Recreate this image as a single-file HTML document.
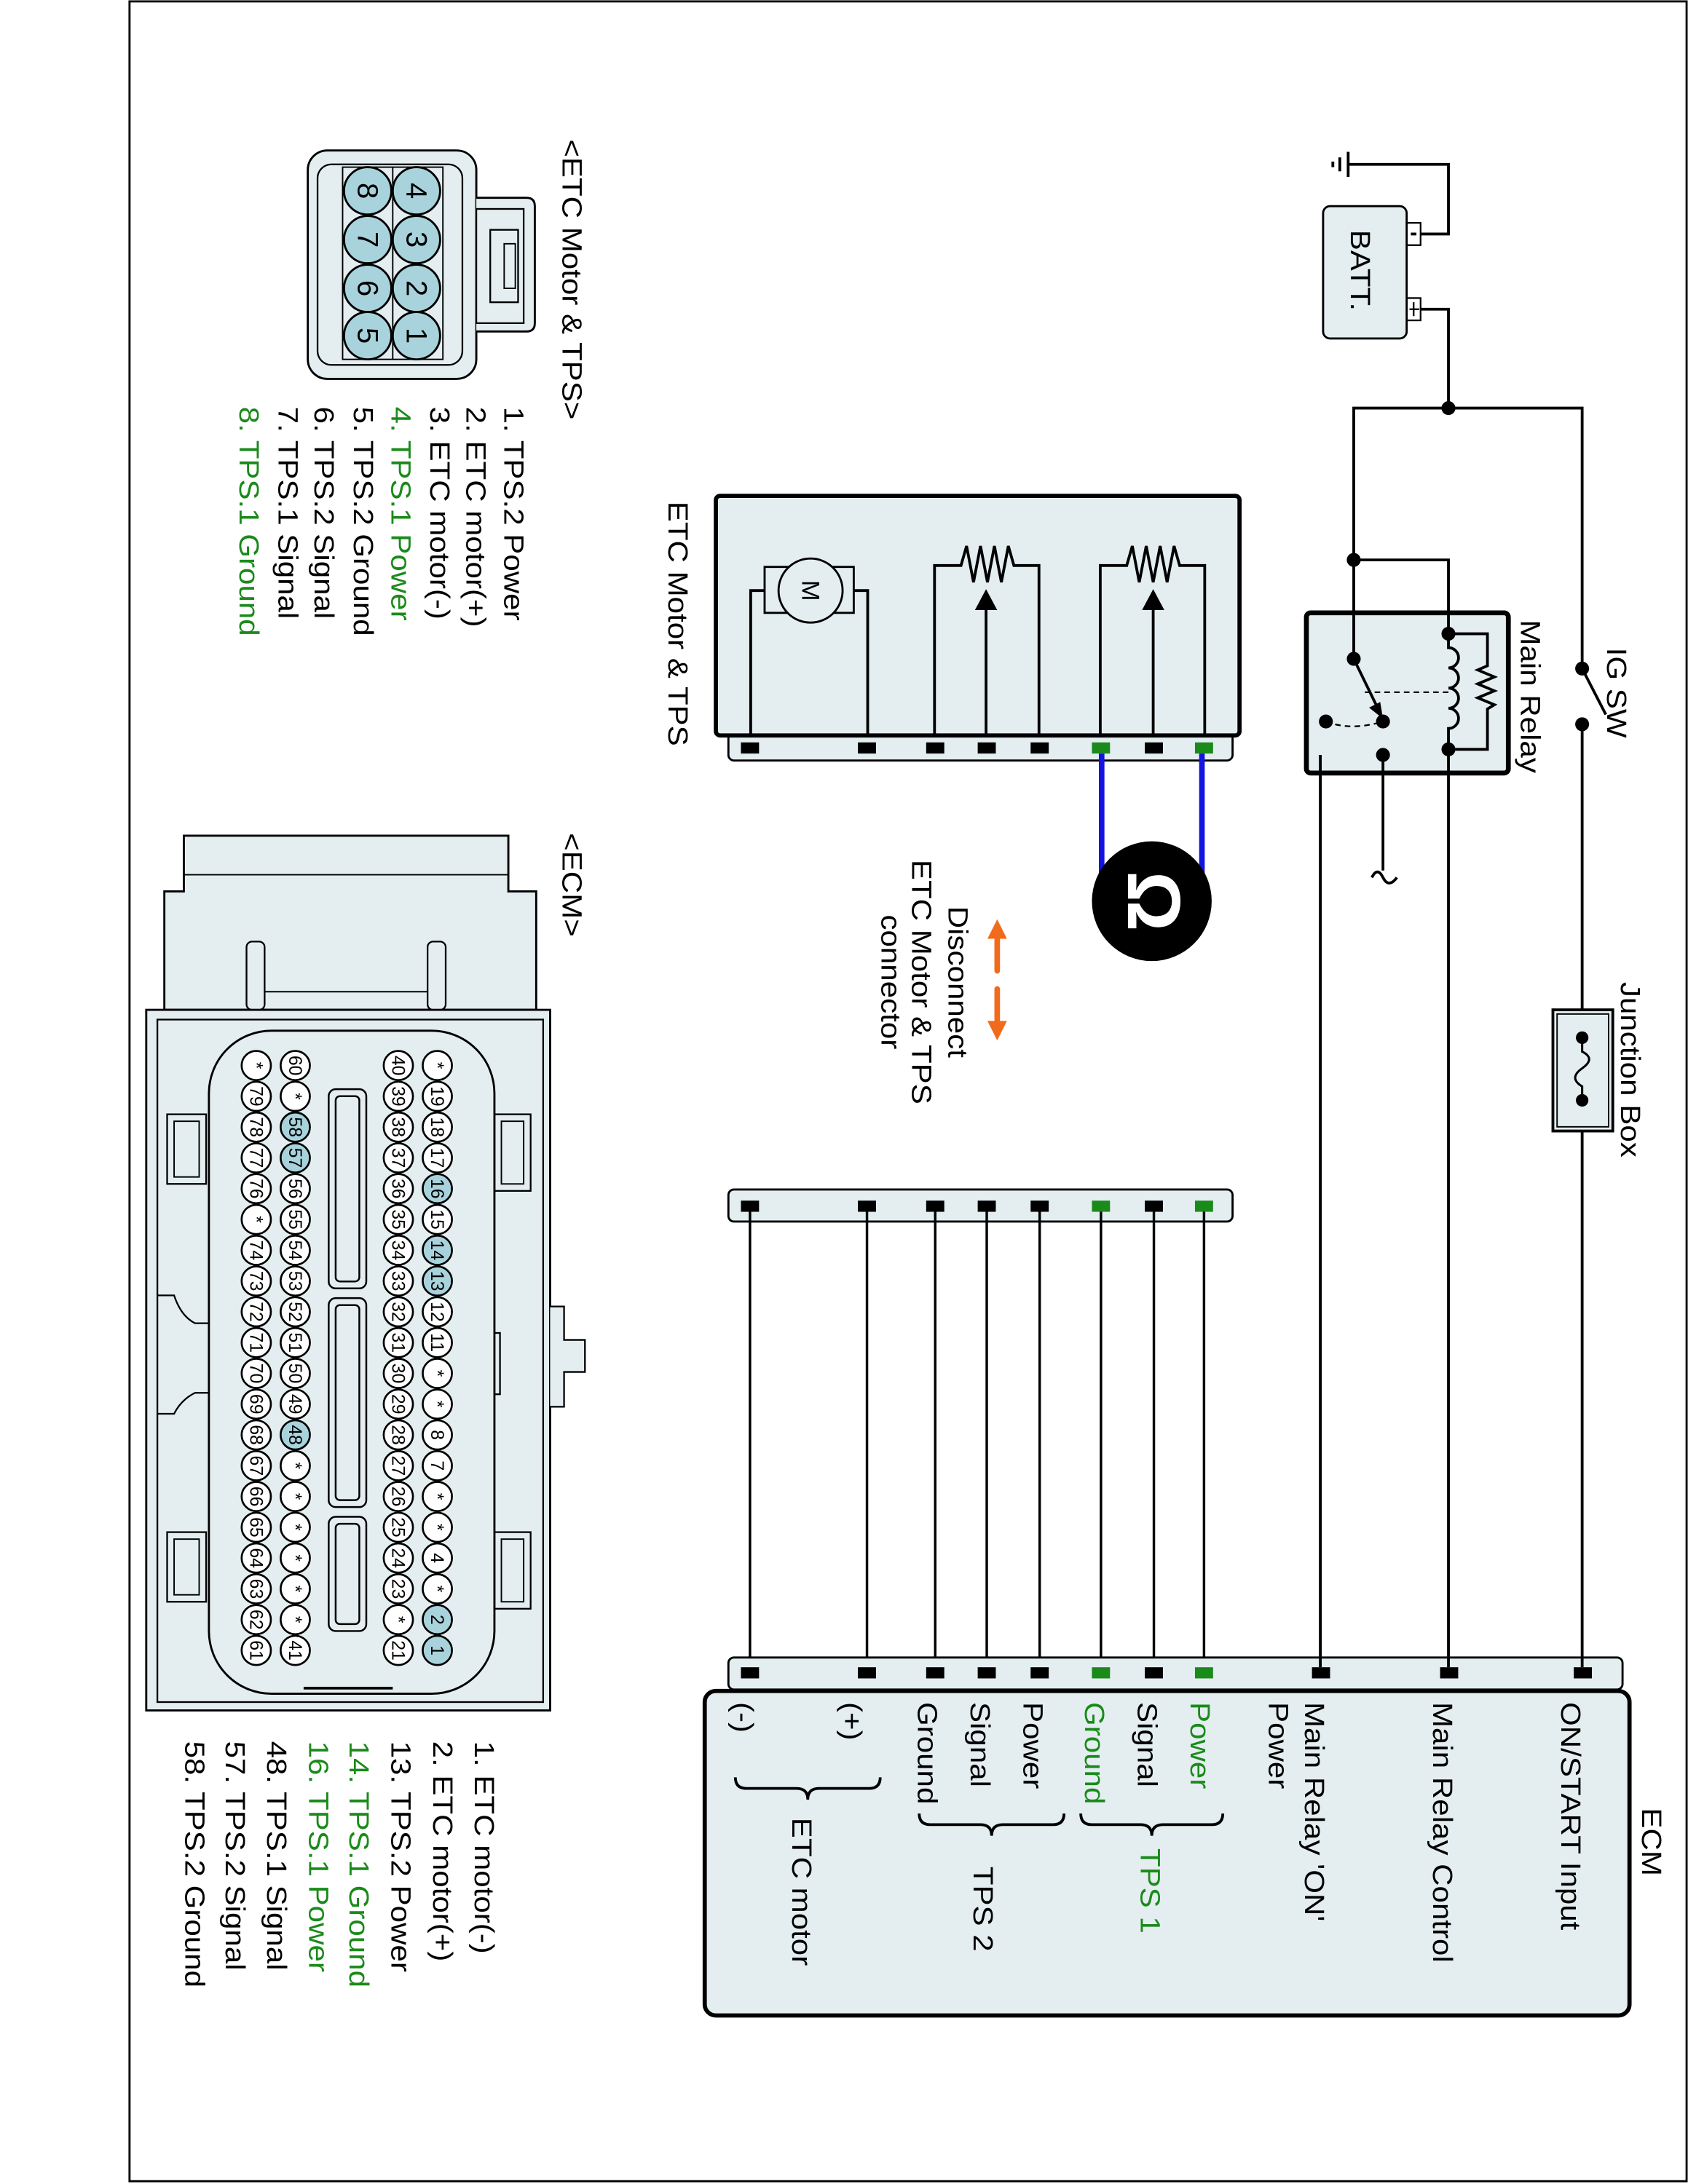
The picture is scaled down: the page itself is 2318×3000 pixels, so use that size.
<!DOCTYPE html>
<html><head><meta charset="utf-8"><style>html,body{margin:0;padding:0;background:#fff}svg{display:block}</style></head>
<body>
<svg xmlns="http://www.w3.org/2000/svg" width="2318" height="3000" viewBox="0 0 1212 1568" preserveAspectRatio="none" font-family="Liberation Sans, Arial, sans-serif">
<defs>
<style>
.w{fill:none;stroke:#000;stroke-width:2}
.t{font-size:20px;fill:#000}
.g{fill:#1a8a1a}
.pn{font-size:13px;fill:#000}
</style>
</defs>
<rect x="0" y="0" width="1212" height="1568" fill="#fff"/>
<rect x="93" y="1" width="1118" height="1565" fill="none" stroke="#000" stroke-width="1.5"/>

<!-- ETC connector face -->
<text class="t" transform="translate(404,100) rotate(90) scale(1.1,1)">&lt;ETC Motor &amp; TPS&gt;</text>
<rect x="221" y="108" width="121" height="164" rx="14" fill="#e4eef0" stroke="#000" stroke-width="1.5"/>
<rect x="228" y="118" width="104" height="144" rx="10" fill="none" stroke="#000" stroke-width="1.2"/>
<path d="M342,142 H378 Q384,142 384,148 V232 Q384,238 378,238 H342" fill="#e4eef0" stroke="#000" stroke-width="1.5"/>
<rect x="342" y="150" width="34" height="82" fill="none" stroke="#000" stroke-width="1.2"/>
<rect x="352" y="165" width="20" height="52" fill="none" stroke="#000" stroke-width="1.2"/>
<rect x="362" y="175" width="8" height="32" fill="none" stroke="#000" stroke-width="1"/>
<rect x="246" y="120" width="72" height="138" fill="none" stroke="#000" stroke-width="1"/>
<line x1="282" y1="120" x2="282" y2="258" stroke="#000" stroke-width="1"/>
<g stroke="#000" stroke-width="1.5" fill="#a9d3dc">
<ellipse cx="299" cy="137" rx="17" ry="17"/><ellipse cx="299" cy="172" rx="17" ry="17"/><ellipse cx="299" cy="207" rx="17" ry="17"/><ellipse cx="299" cy="241" rx="17" ry="17"/>
<ellipse cx="264" cy="137" rx="17" ry="17"/><ellipse cx="264" cy="172" rx="17" ry="17"/><ellipse cx="264" cy="207" rx="17" ry="17"/><ellipse cx="264" cy="241" rx="17" ry="17"/>
</g>
<g font-size="21" text-anchor="middle">
<text transform="translate(292,137) rotate(90)">4</text>
<text transform="translate(292,172) rotate(90)">3</text>
<text transform="translate(292,207) rotate(90)">2</text>
<text transform="translate(292,241) rotate(90)">1</text>
<text transform="translate(257,137) rotate(90)">8</text>
<text transform="translate(257,172) rotate(90)">7</text>
<text transform="translate(257,207) rotate(90)">6</text>
<text transform="translate(257,241) rotate(90)">5</text>
</g>
<g class="t">
<text transform="translate(362,292) rotate(90) scale(1.1,1)">1. TPS.2 Power</text>
<text transform="translate(335,292) rotate(90) scale(1.1,1)">2. ETC motor(+)</text>
<text transform="translate(309,292) rotate(90) scale(1.1,1)">3. ETC motor(-)</text>
<text class="g" transform="translate(281,292) rotate(90) scale(1.1,1)">4. TPS.1 Power</text>
<text transform="translate(254,292) rotate(90) scale(1.1,1)">5. TPS.2 Ground</text>
<text transform="translate(226,292) rotate(90) scale(1.1,1)">6. TPS.2 Signal</text>
<text transform="translate(200,292) rotate(90) scale(1.1,1)">7. TPS.1 Signal</text>
<text class="g" transform="translate(172,292) rotate(90) scale(1.1,1)">8. TPS.1 Ground</text>
</g>

<!-- ECM connector face -->
<text class="t" transform="translate(404,598) rotate(90) scale(1.1,1)">&lt;ECM&gt;</text>
<path d="M118,725 V640 H132 V600 H365 V640 H385 V725 Z" fill="#e4eef0" stroke="#000" stroke-width="1.5"/>
<line x1="132" y1="628" x2="365" y2="628" stroke="#000" stroke-width="1"/>
<rect x="177" y="676" width="13" height="49" rx="4" fill="#e4eef0" stroke="#000" stroke-width="1.2"/>
<rect x="307" y="676" width="13" height="49" rx="4" fill="#e4eef0" stroke="#000" stroke-width="1.2"/>
<line x1="190" y1="712" x2="307" y2="712" stroke="#000" stroke-width="1"/>
<rect x="105" y="725" width="290" height="503" fill="#e4eef0" stroke="#000" stroke-width="1.5"/>
<rect x="113" y="732" width="277" height="490" fill="none" stroke="#000" stroke-width="1.2"/>
<path d="M395,938 H405 V962 H420 V985 H405 V1010 H395" fill="#e4eef0" stroke="#000" stroke-width="1.2"/>
<path d="M113,930 H125 Q130,945 140,950 H150 V1000 H140 Q130,1005 125,1015 H113" fill="none" stroke="#000" stroke-width="1.2"/>
<rect x="120" y="800" width="28" height="50" fill="none" stroke="#000" stroke-width="1.2"/>
<rect x="125" y="805" width="18" height="40" fill="none" stroke="#000" stroke-width="1"/>
<rect x="120" y="1100" width="28" height="50" fill="none" stroke="#000" stroke-width="1.2"/>
<rect x="125" y="1105" width="18" height="40" fill="none" stroke="#000" stroke-width="1"/>
<rect x="355" y="800" width="26" height="55" fill="none" stroke="#000" stroke-width="1.2"/>
<rect x="360" y="805" width="16" height="45" fill="none" stroke="#000" stroke-width="1"/>
<rect x="355" y="1100" width="26" height="55" fill="none" stroke="#000" stroke-width="1.2"/>
<rect x="360" y="1105" width="16" height="45" fill="none" stroke="#000" stroke-width="1"/>
<rect x="345" y="957" width="14" height="44" fill="none" stroke="#000" stroke-width="1.2"/>
<rect x="150" y="740" width="205" height="476" rx="45" fill="#e4eef0" stroke="#000" stroke-width="1.5"/>
<line x1="218" y1="1212" x2="282" y2="1212" stroke="#000" stroke-width="2"/>
<g fill="#e4eef0" stroke="#000" stroke-width="1.3">
<rect x="236" y="782" width="27" height="143" rx="5"/>
<rect x="236" y="932" width="27" height="150" rx="5"/>
<rect x="236" y="1089" width="27" height="82" rx="5"/>
<rect x="241" y="787" width="17" height="133" rx="3"/>
<rect x="241" y="937" width="17" height="140" rx="3"/>
<rect x="241" y="1094" width="17" height="72" rx="3"/>
</g>
<g stroke="#000" stroke-width="1.4" fill="#fff">
<circle cx="314" cy="765" r="10.5"/><circle cx="314" cy="787.1" r="10.5"/><circle cx="314" cy="809.2" r="10.5"/><circle cx="314" cy="831.3" r="10.5"/><circle cx="314" cy="853.4" r="10.5" fill="#a9d3dc"/><circle cx="314" cy="875.5" r="10.5"/><circle cx="314" cy="897.6" r="10.5" fill="#a9d3dc"/><circle cx="314" cy="919.7" r="10.5" fill="#a9d3dc"/><circle cx="314" cy="941.8" r="10.5"/><circle cx="314" cy="963.9" r="10.5"/><circle cx="314" cy="986" r="10.5"/><circle cx="314" cy="1008.1" r="10.5"/><circle cx="314" cy="1030.2" r="10.5"/><circle cx="314" cy="1052.3" r="10.5"/><circle cx="314" cy="1074.4" r="10.5"/><circle cx="314" cy="1096.5" r="10.5"/><circle cx="314" cy="1118.6" r="10.5"/><circle cx="314" cy="1140.7" r="10.5"/><circle cx="314" cy="1162.8" r="10.5" fill="#a9d3dc"/><circle cx="314" cy="1184.9" r="10.5" fill="#a9d3dc"/>
<circle cx="286" cy="765" r="10.5"/><circle cx="286" cy="787.1" r="10.5"/><circle cx="286" cy="809.2" r="10.5"/><circle cx="286" cy="831.3" r="10.5"/><circle cx="286" cy="853.4" r="10.5"/><circle cx="286" cy="875.5" r="10.5"/><circle cx="286" cy="897.6" r="10.5"/><circle cx="286" cy="919.7" r="10.5"/><circle cx="286" cy="941.8" r="10.5"/><circle cx="286" cy="963.9" r="10.5"/><circle cx="286" cy="986" r="10.5"/><circle cx="286" cy="1008.1" r="10.5"/><circle cx="286" cy="1030.2" r="10.5"/><circle cx="286" cy="1052.3" r="10.5"/><circle cx="286" cy="1074.4" r="10.5"/><circle cx="286" cy="1096.5" r="10.5"/><circle cx="286" cy="1118.6" r="10.5"/><circle cx="286" cy="1140.7" r="10.5"/><circle cx="286" cy="1162.8" r="10.5"/><circle cx="286" cy="1184.9" r="10.5"/>
<circle cx="212" cy="765" r="10.5"/><circle cx="212" cy="787.1" r="10.5"/><circle cx="212" cy="809.2" r="10.5" fill="#a9d3dc"/><circle cx="212" cy="831.3" r="10.5" fill="#a9d3dc"/><circle cx="212" cy="853.4" r="10.5"/><circle cx="212" cy="875.5" r="10.5"/><circle cx="212" cy="897.6" r="10.5"/><circle cx="212" cy="919.7" r="10.5"/><circle cx="212" cy="941.8" r="10.5"/><circle cx="212" cy="963.9" r="10.5"/><circle cx="212" cy="986" r="10.5"/><circle cx="212" cy="1008.1" r="10.5"/><circle cx="212" cy="1030.2" r="10.5" fill="#a9d3dc"/><circle cx="212" cy="1052.3" r="10.5"/><circle cx="212" cy="1074.4" r="10.5"/><circle cx="212" cy="1096.5" r="10.5"/><circle cx="212" cy="1118.6" r="10.5"/><circle cx="212" cy="1140.7" r="10.5"/><circle cx="212" cy="1162.8" r="10.5"/><circle cx="212" cy="1184.9" r="10.5"/>
<circle cx="184" cy="765" r="10.5"/><circle cx="184" cy="787.1" r="10.5"/><circle cx="184" cy="809.2" r="10.5"/><circle cx="184" cy="831.3" r="10.5"/><circle cx="184" cy="853.4" r="10.5"/><circle cx="184" cy="875.5" r="10.5"/><circle cx="184" cy="897.6" r="10.5"/><circle cx="184" cy="919.7" r="10.5"/><circle cx="184" cy="941.8" r="10.5"/><circle cx="184" cy="963.9" r="10.5"/><circle cx="184" cy="986" r="10.5"/><circle cx="184" cy="1008.1" r="10.5"/><circle cx="184" cy="1030.2" r="10.5"/><circle cx="184" cy="1052.3" r="10.5"/><circle cx="184" cy="1074.4" r="10.5"/><circle cx="184" cy="1096.5" r="10.5"/><circle cx="184" cy="1118.6" r="10.5"/><circle cx="184" cy="1140.7" r="10.5"/><circle cx="184" cy="1162.8" r="10.5"/><circle cx="184" cy="1184.9" r="10.5"/>
</g>
<g class="pn" text-anchor="middle">
<text transform="translate(309.5,765) rotate(90)">*</text><text transform="translate(309.5,787.1) rotate(90)">19</text><text transform="translate(309.5,809.2) rotate(90)">18</text><text transform="translate(309.5,831.3) rotate(90)">17</text><text transform="translate(309.5,853.4) rotate(90)">16</text><text transform="translate(309.5,875.5) rotate(90)">15</text><text transform="translate(309.5,897.6) rotate(90)">14</text><text transform="translate(309.5,919.7) rotate(90)">13</text><text transform="translate(309.5,941.8) rotate(90)">12</text><text transform="translate(309.5,963.9) rotate(90)">11</text><text transform="translate(309.5,986) rotate(90)">*</text><text transform="translate(309.5,1008.1) rotate(90)">*</text><text transform="translate(309.5,1030.2) rotate(90)">8</text><text transform="translate(309.5,1052.3) rotate(90)">7</text><text transform="translate(309.5,1074.4) rotate(90)">*</text><text transform="translate(309.5,1096.5) rotate(90)">*</text><text transform="translate(309.5,1118.6) rotate(90)">4</text><text transform="translate(309.5,1140.7) rotate(90)">*</text><text transform="translate(309.5,1162.8) rotate(90)">2</text><text transform="translate(309.5,1184.9) rotate(90)">1</text>
<text transform="translate(281.5,765) rotate(90)">40</text><text transform="translate(281.5,787.1) rotate(90)">39</text><text transform="translate(281.5,809.2) rotate(90)">38</text><text transform="translate(281.5,831.3) rotate(90)">37</text><text transform="translate(281.5,853.4) rotate(90)">36</text><text transform="translate(281.5,875.5) rotate(90)">35</text><text transform="translate(281.5,897.6) rotate(90)">34</text><text transform="translate(281.5,919.7) rotate(90)">33</text><text transform="translate(281.5,941.8) rotate(90)">32</text><text transform="translate(281.5,963.9) rotate(90)">31</text><text transform="translate(281.5,986) rotate(90)">30</text><text transform="translate(281.5,1008.1) rotate(90)">29</text><text transform="translate(281.5,1030.2) rotate(90)">28</text><text transform="translate(281.5,1052.3) rotate(90)">27</text><text transform="translate(281.5,1074.4) rotate(90)">26</text><text transform="translate(281.5,1096.5) rotate(90)">25</text><text transform="translate(281.5,1118.6) rotate(90)">24</text><text transform="translate(281.5,1140.7) rotate(90)">23</text><text transform="translate(281.5,1162.8) rotate(90)">*</text><text transform="translate(281.5,1184.9) rotate(90)">21</text>
<text transform="translate(207.5,765) rotate(90)">60</text><text transform="translate(207.5,787.1) rotate(90)">*</text><text transform="translate(207.5,809.2) rotate(90)">58</text><text transform="translate(207.5,831.3) rotate(90)">57</text><text transform="translate(207.5,853.4) rotate(90)">56</text><text transform="translate(207.5,875.5) rotate(90)">55</text><text transform="translate(207.5,897.6) rotate(90)">54</text><text transform="translate(207.5,919.7) rotate(90)">53</text><text transform="translate(207.5,941.8) rotate(90)">52</text><text transform="translate(207.5,963.9) rotate(90)">51</text><text transform="translate(207.5,986) rotate(90)">50</text><text transform="translate(207.5,1008.1) rotate(90)">49</text><text transform="translate(207.5,1030.2) rotate(90)">48</text><text transform="translate(207.5,1052.3) rotate(90)">*</text><text transform="translate(207.5,1074.4) rotate(90)">*</text><text transform="translate(207.5,1096.5) rotate(90)">*</text><text transform="translate(207.5,1118.6) rotate(90)">*</text><text transform="translate(207.5,1140.7) rotate(90)">*</text><text transform="translate(207.5,1162.8) rotate(90)">*</text><text transform="translate(207.5,1184.9) rotate(90)">41</text>
<text transform="translate(179.5,765) rotate(90)">*</text><text transform="translate(179.5,787.1) rotate(90)">79</text><text transform="translate(179.5,809.2) rotate(90)">78</text><text transform="translate(179.5,831.3) rotate(90)">77</text><text transform="translate(179.5,853.4) rotate(90)">76</text><text transform="translate(179.5,875.5) rotate(90)">*</text><text transform="translate(179.5,897.6) rotate(90)">74</text><text transform="translate(179.5,919.7) rotate(90)">73</text><text transform="translate(179.5,941.8) rotate(90)">72</text><text transform="translate(179.5,963.9) rotate(90)">71</text><text transform="translate(179.5,986) rotate(90)">70</text><text transform="translate(179.5,1008.1) rotate(90)">69</text><text transform="translate(179.5,1030.2) rotate(90)">68</text><text transform="translate(179.5,1052.3) rotate(90)">67</text><text transform="translate(179.5,1074.4) rotate(90)">66</text><text transform="translate(179.5,1096.5) rotate(90)">65</text><text transform="translate(179.5,1118.6) rotate(90)">64</text><text transform="translate(179.5,1140.7) rotate(90)">63</text><text transform="translate(179.5,1162.8) rotate(90)">62</text><text transform="translate(179.5,1184.9) rotate(90)">61</text>
</g>
<g class="t">
<text transform="translate(341,1250) rotate(90) scale(1.1,1)">1. ETC motor(-)</text>
<text transform="translate(311,1250) rotate(90) scale(1.1,1)">2. ETC motor(+)</text>
<text transform="translate(281,1250) rotate(90) scale(1.1,1)">13. TPS.2 Power</text>
<text class="g" transform="translate(251,1250) rotate(90) scale(1.1,1)">14. TPS.1 Ground</text>
<text class="g" transform="translate(222,1250) rotate(90) scale(1.1,1)">16. TPS.1 Power</text>
<text transform="translate(192,1250) rotate(90) scale(1.1,1)">48. TPS.1 Signal</text>
<text transform="translate(162,1250) rotate(90) scale(1.1,1)">57. TPS.2 Signal</text>
<text transform="translate(133,1250) rotate(90) scale(1.1,1)">58. TPS.2 Ground</text>
</g>

<!-- ETC Motor & TPS box -->
<text class="t" transform="translate(480,360) rotate(90) scale(1.1,1)">ETC Motor &amp; TPS</text>
<rect x="523" y="520" width="362" height="26" rx="4" fill="#e4eef0" stroke="#000" stroke-width="1.5"/>
<rect x="514" y="356" width="376" height="172" rx="3" fill="#e4eef0" stroke="#000" stroke-width="3"/>
<path class="w" d="M539,528 V424 H549 M623,528 V424 H613"/>
<rect x="549" y="407" width="64" height="33" fill="#e4eef0" stroke="#000" stroke-width="1.5"/>
<circle cx="582" cy="424" r="23" fill="#e4eef0" stroke="#000" stroke-width="1.5"/>
<text transform="translate(576,424) rotate(90)" text-anchor="middle" font-size="18">M</text>
<path class="w" d="M671,528 V406 H690 L694,392 L699,418 L704,392 L709,418 L714,392 L719,418 L724,392 L728,406 H746 V528"/>
<line x1="708" y1="528" x2="708" y2="436" stroke="#000" stroke-width="2"/>
<path d="M708,423 L700,438 H716 Z"/>
<path class="w" d="M790,528 V406 H809 L813,392 L818,418 L823,392 L828,418 L833,392 L838,418 L843,392 L847,406 H865 V528"/>
<line x1="828" y1="528" x2="828" y2="436" stroke="#000" stroke-width="2"/>
<path d="M828,423 L820,438 H836 Z"/>
<g>
<rect x="532" y="533" width="13" height="8"/><rect x="616" y="533" width="13" height="8"/><rect x="665" y="533" width="13" height="8"/><rect x="702" y="533" width="13" height="8"/><rect x="740" y="533" width="13" height="8"/><rect x="784" y="533" width="13" height="8" fill="#1a8a1a"/><rect x="822" y="533" width="13" height="8"/><rect x="858" y="533" width="13" height="8" fill="#1a8a1a"/>
</g>
<line x1="791" y1="541" x2="791" y2="630" stroke="#1414e0" stroke-width="4"/>
<line x1="863" y1="541" x2="863" y2="630" stroke="#1414e0" stroke-width="4"/>
<circle cx="827" cy="647" r="43" fill="#000"/>
<text transform="translate(810,647) rotate(90)" text-anchor="middle" font-size="54" font-weight="bold" fill="#fff">Ω</text>

<g fill="#f26a1b" stroke="#f26a1b">
<line x1="716" y1="672" x2="716" y2="697" stroke-width="4" stroke-linecap="round"/>
<path d="M716,660 L709,674 H723 Z" stroke="none"/>
<line x1="716" y1="710" x2="716" y2="735" stroke-width="4" stroke-linecap="round"/>
<path d="M716,747 L709,733 H723 Z" stroke="none"/>
</g>
<g class="t" text-anchor="middle">
<text transform="translate(681,705) rotate(90) scale(1.1,1)">Disconnect</text>
<text transform="translate(655,705) rotate(90) scale(1.1,1)">ETC Motor &amp; TPS</text>
<text transform="translate(633,705) rotate(90) scale(1.1,1)">connector</text>
</g>

<rect x="523" y="854" width="362" height="23" rx="4" fill="#e4eef0" stroke="#000" stroke-width="1.5"/>
<g>
<rect x="532" y="862" width="13" height="8"/><rect x="616" y="862" width="13" height="8"/><rect x="665" y="862" width="13" height="8"/><rect x="702" y="862" width="13" height="8"/><rect x="740" y="862" width="13" height="8"/><rect x="784" y="862" width="13" height="8" fill="#1a8a1a"/><rect x="822" y="862" width="13" height="8"/><rect x="858" y="862" width="13" height="8" fill="#1a8a1a"/>
</g>
<g stroke="#000" stroke-width="1.8">
<line x1="538.5" y1="870" x2="538.5" y2="1197"/><line x1="622.5" y1="870" x2="622.5" y2="1197"/><line x1="671.5" y1="870" x2="671.5" y2="1197"/><line x1="708.5" y1="870" x2="708.5" y2="1197"/><line x1="746.5" y1="870" x2="746.5" y2="1197"/><line x1="790.5" y1="870" x2="790.5" y2="1197"/><line x1="828.5" y1="870" x2="828.5" y2="1197"/><line x1="864.5" y1="870" x2="864.5" y2="1197"/>
</g>

<!-- ECM -->
<rect x="523" y="1190" width="642" height="23" rx="4" fill="#e4eef0" stroke="#000" stroke-width="1.5"/>
<rect x="506" y="1214" width="664" height="233" rx="8" fill="#e4eef0" stroke="#000" stroke-width="3"/>
<g>
<rect x="532" y="1197" width="13" height="8"/><rect x="616" y="1197" width="13" height="8"/><rect x="665" y="1197" width="13" height="8"/><rect x="702" y="1197" width="13" height="8"/><rect x="740" y="1197" width="13" height="8"/><rect x="784" y="1197" width="13" height="8" fill="#1a8a1a"/><rect x="822" y="1197" width="13" height="8"/><rect x="858" y="1197" width="13" height="8" fill="#1a8a1a"/><rect x="942" y="1197" width="13" height="8"/><rect x="1034" y="1197" width="13" height="8"/><rect x="1130" y="1197" width="13" height="8"/>
</g>
<g class="t">
<text transform="translate(1179,1298) rotate(90) scale(1.1,1)">ECM</text>
<text transform="translate(1121,1222) rotate(90) scale(1.1,1)">ON/START Input</text>
<text transform="translate(1029,1222) rotate(90) scale(1.1,1)">Main Relay Control</text>
<text transform="translate(937,1222) rotate(90) scale(1.1,1)">Main Relay 'ON'</text>
<text transform="translate(911,1222) rotate(90) scale(1.1,1)">Power</text>
<text class="g" transform="translate(855,1222) rotate(90) scale(1.1,1)">Power</text>
<text transform="translate(817,1222) rotate(90) scale(1.1,1)">Signal</text>
<text class="g" transform="translate(779,1222) rotate(90) scale(1.1,1)">Ground</text>
<text transform="translate(735,1222) rotate(90) scale(1.1,1)">Power</text>
<text transform="translate(697,1222) rotate(90) scale(1.1,1)">Signal</text>
<text transform="translate(659,1222) rotate(90) scale(1.1,1)">Ground</text>
<text transform="translate(605,1222) rotate(90) scale(1.1,1)">(+)</text>
<text transform="translate(527,1222) rotate(90) scale(1.1,1)">(-)</text>
<text class="g" transform="translate(819,1327) rotate(90) scale(1.1,1)">TPS 1</text>
<text transform="translate(699,1340) rotate(90) scale(1.1,1)">TPS 2</text>
<text transform="translate(569,1305) rotate(90) scale(1.1,1)">ETC motor</text>
</g>
<g class="w" stroke-width="1.5">
<path d="M878,1302 Q878,1310 870,1310 H835 Q827,1310 827,1318 Q827,1310 819,1310 H784 Q776,1310 776,1302"/>
<path d="M764,1302 Q764,1310 756,1310 H720 Q712,1310 712,1318 Q712,1310 704,1310 H668 Q660,1310 660,1302"/>
<path d="M632,1276 Q632,1284 624,1284 H588 Q580,1284 580,1292 Q580,1284 572,1284 H536 Q528,1284 528,1276"/>
</g>

<!-- Power circuit -->
<g class="w">
<path d="M968,118 H1040 V168 H1020"/>
<path d="M1020,222 H1040 V293"/>
<path d="M972,402 V293 H1136 V480"/>
<path d="M972,402 H1040 V455"/>
<path d="M972,402 V473"/>
<path d="M1136,520 V725 M1136,812 V1197"/>
<path d="M1040,538 V1197"/>
<path d="M993,542 H948 V1197"/>
<path d="M993,518 V625"/>
<path d="M985,630 Q989,622 993,630 T1003,630"/>
</g>
<line x1="968" y1="109" x2="968" y2="127" stroke="#000" stroke-width="2"/>
<line x1="962" y1="113" x2="962" y2="123" stroke="#000" stroke-width="2"/>
<line x1="957" y1="116" x2="957" y2="120" stroke="#000" stroke-width="2"/>
<rect x="1010" y="160" width="10" height="16" fill="#fff" stroke="#000" stroke-width="1.2"/>
<line x1="1013" y1="168" x2="1017" y2="168" stroke="#000" stroke-width="2"/>
<rect x="1010" y="214" width="10" height="16" fill="#fff" stroke="#000" stroke-width="1.2"/>
<path d="M1012,222 H1019 M1015,217 V227" stroke="#000" stroke-width="1.2"/>
<rect x="950" y="148" width="60" height="95" rx="5" fill="#e4eef0" stroke="#000" stroke-width="1.5"/>
<text class="t" transform="translate(970,165) rotate(90) scale(1.1,1)">BATT.</text>
<circle cx="1040" cy="293" r="5"/>
<circle cx="972" cy="402" r="5"/>
<circle cx="1136" cy="480" r="5"/>
<circle cx="1136" cy="520" r="5"/>
<line x1="1136" y1="480" x2="1153" y2="513" stroke="#000" stroke-width="2"/>
<text class="t" transform="translate(1154,465) rotate(90) scale(1.1,1)">IG SW</text>
<rect x="938" y="440" width="145" height="115" rx="3" fill="#e4eef0" stroke="#000" stroke-width="3.5"/>
<path class="w" d="M972,440 V473 M1040,440 V455 M948,542 V555 M993,542 V555 M1040,538 V555"/>
<path class="w" stroke-width="1.6" d="M1040,455 H1068 V478 L1061,481 L1073,486 L1061,491 L1073,496 L1061,501 L1073,506 L1068,509 V538 H1040"/>
<path class="w" stroke-width="1.6" d="M1040,455 V465 A7.2,7.2 0 0 1 1040,479.5 A7.2,7.2 0 0 1 1040,494 A7.2,7.2 0 0 1 1040,508.5 A7.2,7.2 0 0 1 1040,523 V538"/>
<line x1="980" y1="497" x2="1040" y2="497" stroke="#000" stroke-width="1.2" stroke-dasharray="4,3"/>
<path d="M952,518 Q970,525 993,518" fill="none" stroke="#000" stroke-width="1.2" stroke-dasharray="4,3"/>
<line x1="972" y1="473" x2="990" y2="510" stroke="#000" stroke-width="2"/>
<path d="M993,516 L983,508 L991,504 Z"/>
<circle cx="972" cy="473" r="5"/>
<circle cx="993" cy="518" r="5"/>
<circle cx="952" cy="518" r="5"/>
<circle cx="993" cy="542" r="5"/>
<circle cx="1040" cy="455" r="5"/>
<circle cx="1040" cy="538" r="5"/>
<text class="t" transform="translate(1092,445) rotate(90) scale(1.1,1)">Main Relay</text>
<rect x="1115" y="725" width="43" height="87" fill="#e4eef0" stroke="#000" stroke-width="2"/>
<rect x="1118" y="728" width="37" height="81" fill="none" stroke="#000" stroke-width="1"/>
<circle cx="1136" cy="745" r="4.5"/>
<circle cx="1136" cy="790" r="4.5"/>
<path d="M1136,745 V755 Q1146,760 1136,767 Q1126,774 1136,780 V790" fill="none" stroke="#000" stroke-width="1.6"/>
<text class="t" transform="translate(1164,705) rotate(90) scale(1.1,1)">Junction Box</text>
</svg>
</body></html>
